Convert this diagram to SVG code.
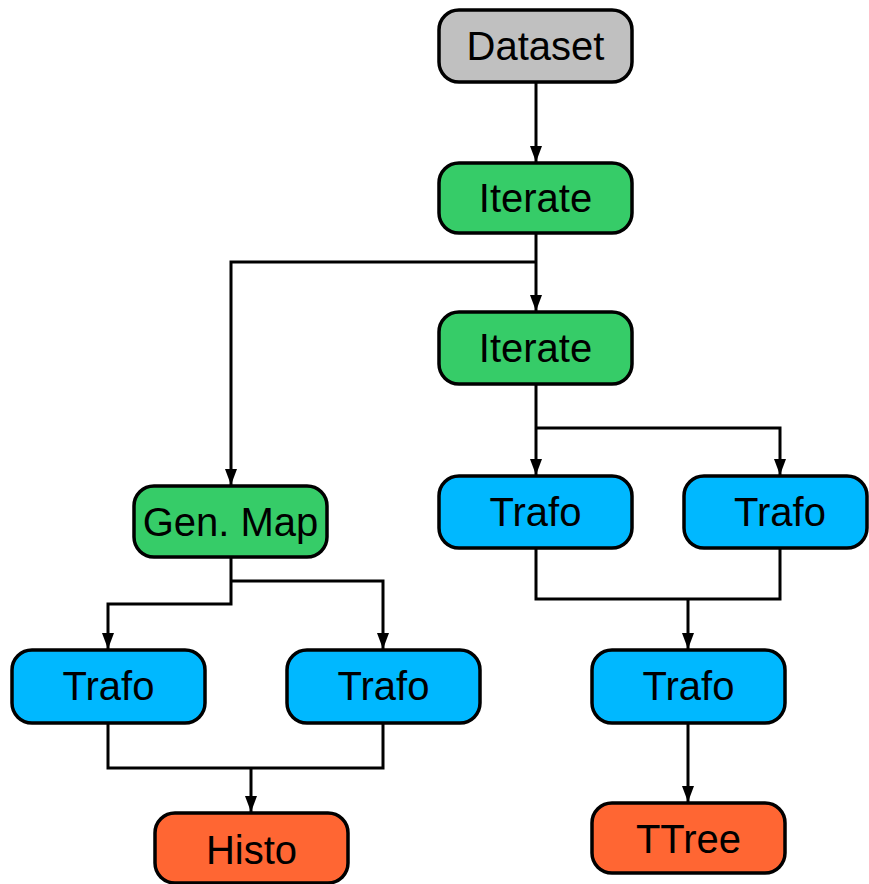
<svg xmlns="http://www.w3.org/2000/svg" width="869" height="884" viewBox="0 0 869 884">
  <style>
    .box { stroke: #000; stroke-width: 3.5; }
    .gray { fill: #c0c0c0; }
    .green { fill: #36cc68; }
    .blue { fill: #00b8ff; }
    .orange { fill: #ff6633; }
    .lbl { font-family: "Liberation Sans", Arial, sans-serif; font-size: 40px; fill: #000; text-anchor: middle; }
    .wire { fill: none; stroke: #000; stroke-width: 3; }
  </style>
  <defs>
    <marker id="head" viewBox="0 0 16 12" refX="16" refY="6" markerWidth="16" markerHeight="12" markerUnits="userSpaceOnUse" orient="auto">
      <path d="M0,0 L16,6 L0,12 Z" fill="#000"/>
    </marker>
  </defs>

  <!-- connectors -->
  <g id="connectors">
    <path class="wire" d="M536,82 V162" marker-end="url(#head)"/>
    <path class="wire" d="M536,233 V311" marker-end="url(#head)"/>
    <path class="wire" d="M536,262 H231 V485" marker-end="url(#head)"/>
    <path class="wire" d="M536,384 V475" marker-end="url(#head)"/>
    <path class="wire" d="M536,428 H780 V475" marker-end="url(#head)"/>
    <path class="wire" d="M536,548 V599 H780 V548"/>
    <path class="wire" d="M688,599 V649" marker-end="url(#head)"/>
    <path class="wire" d="M688,723 V802" marker-end="url(#head)"/>
    <path class="wire" d="M231,557 V604 H108 V649" marker-end="url(#head)"/>
    <path class="wire" d="M231,581 H383 V649" marker-end="url(#head)"/>
    <path class="wire" d="M108,723 V768 H383 V723"/>
    <path class="wire" d="M251,768 V812" marker-end="url(#head)"/>
  </g>

  <g id="dataset">
    <rect class="box gray" x="439" y="10" width="193" height="72" rx="20"/>
    <text class="lbl" x="535.5" y="60">Dataset</text>
  </g>
  <g id="iterate1">
    <rect class="box green" x="439" y="163" width="193" height="70" rx="20"/>
    <text class="lbl" x="535.5" y="212">Iterate</text>
  </g>
  <g id="iterate2">
    <rect class="box green" x="439" y="312" width="193" height="72" rx="20"/>
    <text class="lbl" x="535.5" y="362">Iterate</text>
  </g>
  <g id="genmap">
    <rect class="box green" x="134" y="486" width="193" height="71" rx="20"/>
    <text class="lbl" x="230.5" y="536">Gen. Map</text>
  </g>
  <g id="trafo-r1">
    <rect class="box blue" x="439" y="476" width="193" height="72" rx="20"/>
    <text class="lbl" x="535.5" y="526">Trafo</text>
  </g>
  <g id="trafo-r2">
    <rect class="box blue" x="684" y="476" width="183" height="72" rx="20"/>
    <text class="lbl" x="780" y="526">Trafo</text>
  </g>
  <g id="trafo-r3">
    <rect class="box blue" x="592" y="650" width="193" height="73" rx="20"/>
    <text class="lbl" x="688.5" y="700">Trafo</text>
  </g>
  <g id="trafo-l1">
    <rect class="box blue" x="12" y="650" width="193" height="73" rx="20"/>
    <text class="lbl" x="108.5" y="700">Trafo</text>
  </g>
  <g id="trafo-l2">
    <rect class="box blue" x="287" y="650" width="193" height="73" rx="20"/>
    <text class="lbl" x="383.5" y="700">Trafo</text>
  </g>
  <g id="histo">
    <rect class="box orange" x="155" y="813" width="193" height="70" rx="20"/>
    <text class="lbl" x="251.5" y="864">Histo</text>
  </g>
  <g id="ttree">
    <rect class="box orange" x="592" y="803" width="193" height="70" rx="20"/>
    <text class="lbl" x="688.5" y="853">TTree</text>
  </g>
</svg>
